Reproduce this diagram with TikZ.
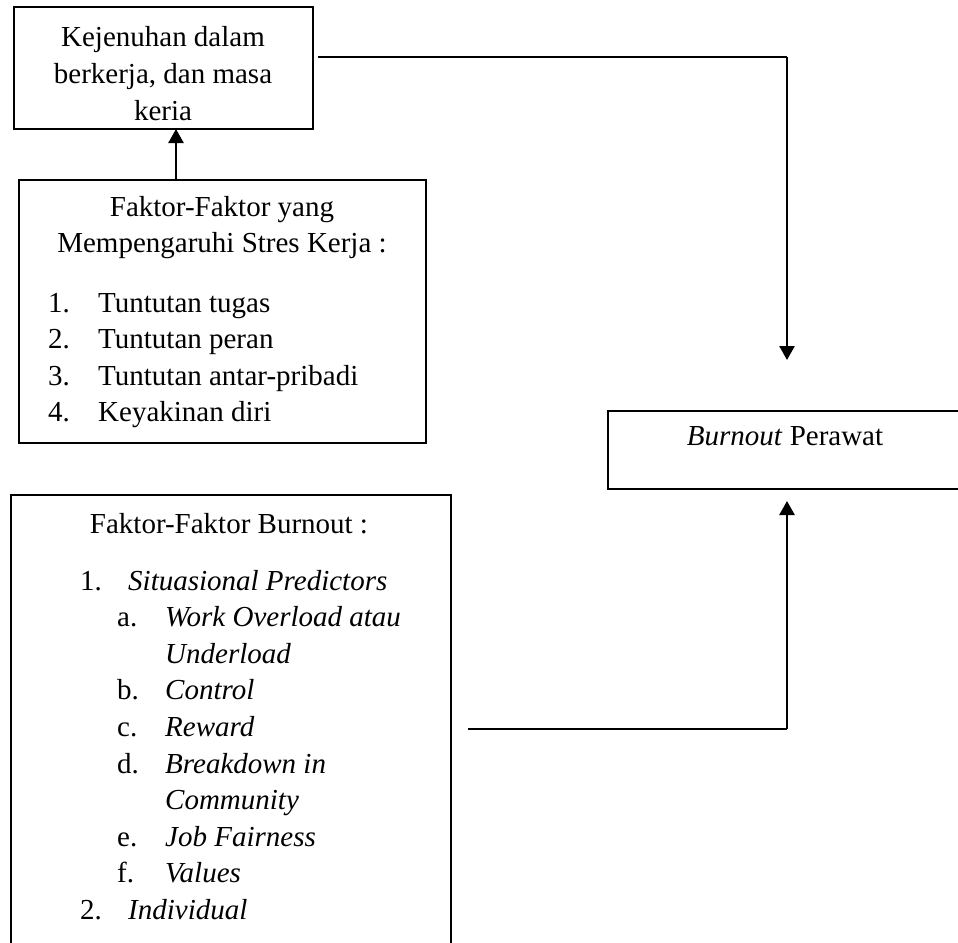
\documentclass[tikz,border=0pt]{standalone}
\usepackage{fontspec}
\setmainfont{Liberation Serif}
\usetikzlibrary{calc,positioning,arrows.meta}

\begin{document}
\begin{tikzpicture}[x=1pt,y=1pt,
kotak/.style={draw,line width=2.6pt,rectangle,inner sep=0pt,outer sep=0pt,anchor=north west},
teks/.style={inner sep=0pt,font=\fontsize{29}{36.6}\selectfont},
garis/.style={line width=1.4pt},
panah/.style={line width=2.6pt,-{Triangle[width=15pt,length=14pt]}}]
\useasboundingbox (0,0) rectangle (958,-942);\clip (0,0) rectangle (958,-942);
\node[kotak,minimum width=299pt,minimum height=122pt](kejenuhan)at(14,-7){};
\node[kotak,minimum width=407pt,minimum height=263pt](stres)at(19,-180){};
\node[kotak,minimum width=440pt,minimum height=470pt](faktorburnout)at(11,-495){};
\node[kotak,minimum width=370pt,minimum height=78pt](burnout)at(608,-411){};
\node[teks,anchor=base](kejenuhanteks)at(163,-47){\begin{tabular}[t]{@{}c@{}}Kejenuhan dalam\\berkerja, dan masa\\keria\end{tabular}};
\node[teks,anchor=base](stresjudul)at(222,-216){\begin{tabular}[t]{@{}c@{}}Faktor-Faktor yang\\Mempengaruhi Stres Kerja :\end{tabular}};
\node[teks,anchor=base west](stresdaftar)at(48,-312){\begin{tabular}[t]{@{}p{50pt}@{}l@{}}1.&Tuntutan tugas\\2.&Tuntutan peran\\3.&Tuntutan antar-pribadi\\4.&Keyakinan diri\end{tabular}};
\node[teks,anchor=base](burnoutjudul)at(229,-533){Faktor-Faktor Burnout :};
\node[teks,anchor=base west](burnoutdaftar)at(80,-590){\begin{tabular}[t]{@{}p{37pt}@{}p{48pt}@{}l@{}}
1.&\multicolumn{2}{@{\hspace{11pt}}l@{}}{\textit{Situasional Predictors}}\\
&a.&\textit{Work Overload atau}\\
&&\textit{Underload}\\
&b.&\textit{Control}\\
&c.&\textit{Reward}\\
&d.&\textit{Breakdown in}\\
&&\textit{Community}\\
&e.&\textit{Job Fairness}\\
&f.&\textit{Values}\\
2.&\multicolumn{2}{@{\hspace{11pt}}l@{}}{\textit{Individual}}
\end{tabular}};
\node[teks,anchor=base](burnoutteks)at(785,-445){\textit{Burnout} Perawat};
\coordinate(belokatas)at(787,-57);\coordinate(belokbawah)at(787,-729);\coordinate(panahkiri)at(176,0);
\draw[panah](stres.north -| panahkiri)--(kejenuhan.south -| panahkiri);
\draw[garis]($(kejenuhan.east |- belokatas)+(5,0)$)--(belokatas);
\draw[panah,shorten >=51pt](belokatas)--(belokatas |- burnout.north);
\draw[garis]($(faktorburnout.east |- belokbawah)+(17,0)$)--(belokbawah);
\draw[panah,shorten >=12pt](belokbawah)--(belokbawah |- burnout.south);
\end{tikzpicture}
\end{document}
